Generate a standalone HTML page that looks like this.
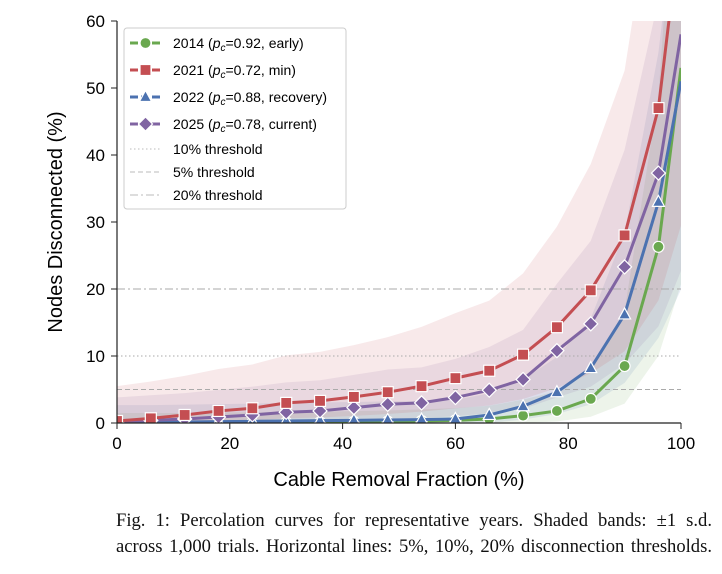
<!DOCTYPE html>
<html><head><meta charset="utf-8"><style>
body{margin:0;background:#fff;width:722px;height:574px;overflow:hidden;font-family:"Liberation Sans",sans-serif}
.cap{position:absolute;left:116px;width:596px;text-align:justify;text-align-last:justify;font-family:"Liberation Serif",serif;font-size:18.6px;color:#111;white-space:nowrap}
</style></head><body>
<svg id="s" width="722" height="500" style="position:absolute;left:0;top:0"></svg>
<div class="cap" style="top:510px">Fig. 1: Percolation curves for representative years. Shaded bands: ±1 s.d.</div>
<div class="cap" style="top:536px">across 1,000 trials. Horizontal lines: 5%, 10%, 20% disconnection thresholds.</div>
<script>
const X=x=>117+5.64*x, Y=y=>423-6.7*y;
const xs=[0,6,12,18,24,30,36,42,48,54,60,66,72,78,84,90,96,100];
const D={
r:[0.3,0.7,1.2,1.8,2.2,3,3.3,3.9,4.6,5.5,6.7,7.8,10.2,14.3,19.8,28,47,75],
p:[0.2,0.4,0.6,0.9,1.2,1.6,1.8,2.3,2.8,3,3.8,4.9,6.5,10.8,14.8,23.3,37.3,58],
b:[0.1,0.1,0.15,0.2,0.25,0.3,0.35,0.4,0.45,0.5,0.6,1.2,2.5,4.6,8.2,16.2,33,51],
g:[0,0,0,0.05,0.05,0.1,0.1,0.15,0.2,0.3,0.4,0.6,1.1,1.8,3.6,8.5,26.3,53]};
const C={r:'#c44e52',p:'#8064a2',b:'#4c72b0',g:'#6aa84f'};
const up={r:v=>v*1.7+5,p:v=>v*1.6+3.5,b:v=>v*1.6+2.5,g:v=>v*1.8+1.5};
let h='<defs><clipPath id="c"><rect x="117" y="21" width="564" height="402"/></clipPath></defs><g clip-path="url(#c)">';
for(const k of ['g','b','p','r']){
 let top=xs.map((x,i)=>X(x)+','+Y(up[k](D[k][i]))).join(' ');
 let bot=xs.slice().reverse().map((x,j)=>{let i=xs.length-1-j;return X(x)+','+Y(Math.max(0,D[k][i]*0.4-0.5))}).join(' ');
 h+=`<polygon points="${top} ${bot}" fill="${C[k]}" fill-opacity="0.12"/>`;
}
h+=`<line x1="117" x2="681" y1="${Y(5)}" y2="${Y(5)}" stroke="#aaa" stroke-dasharray="5,3"/>`;
h+=`<line x1="117" x2="681" y1="${Y(10)}" y2="${Y(10)}" stroke="#aaa" stroke-dasharray="1.5,2.5"/>`;
h+=`<line x1="117" x2="681" y1="${Y(20)}" y2="${Y(20)}" stroke="#aaa" stroke-dasharray="8,3,2,3"/>`;
function mk(k,x,y){const c=C[k];
 if(k=='g')return `<circle cx="${x}" cy="${y}" r="5.5" fill="${c}" stroke="#fff" stroke-width="1.2"/>`;
 if(k=='r')return `<rect x="${x-5.5}" y="${y-5.5}" width="11" height="11" fill="${c}" stroke="#fff" stroke-width="1.2"/>`;
 if(k=='b')return `<polygon points="${x},${y-6.5} ${x+6},${y+4.5} ${x-6},${y+4.5}" fill="${c}" stroke="#fff" stroke-width="1.2"/>`;
 return `<polygon points="${x},${y-7} ${x+7},${y} ${x},${y+7} ${x-7},${y}" fill="${c}" stroke="#fff" stroke-width="1.2"/>`;}
for(const k of ['g','b','p','r']){
 h+=`<polyline points="${xs.map((x,i)=>X(x)+','+Y(D[k][i])).join(' ')}" fill="none" stroke="${C[k]}" stroke-width="3" stroke-linejoin="round"/>`;
 xs.forEach((x,i)=>{if(x<100)h+=mk(k,X(x),Y(D[k][i]))});
}
h+='</g>';
h+='<line x1="117" y1="21" x2="117" y2="423" stroke="#222" stroke-width="1.2"/><line x1="117" y1="423" x2="681" y2="423" stroke="#222" stroke-width="1.2"/>';
for(let v=0;v<=100;v+=20){h+=`<line x1="${X(v)}" x2="${X(v)}" y1="423" y2="429" stroke="#222"/><text x="${X(v)}" y="449" font-size="17" text-anchor="middle">${v}</text>`}
for(let v=0;v<=60;v+=10){h+=`<line x1="111" x2="117" y1="${Y(v)}" y2="${Y(v)}" stroke="#222"/><text x="105" y="${Y(v)+6}" font-size="17" text-anchor="end">${v}</text>`}
h+='<text x="399" y="486" font-size="20" text-anchor="middle">Cable Removal Fraction (%)</text>';
h+='<text transform="translate(62,222) rotate(-90)" font-size="20" text-anchor="middle">Nodes Disconnected (%)</text>';
h+='<rect x="124" y="28" width="222" height="181" rx="3" fill="#fff" fill-opacity="0.9" stroke="#ccc"/>';
const L=[['g','2014','0.92, early'],['r','2021','0.72, min'],['b','2022','0.88, recovery'],['p','2025','0.78, current']];
L.forEach((l,i)=>{const y=43+i*27;h+=`<line x1="130" x2="161" y1="${y}" y2="${y}" stroke="${C[l[0]]}" stroke-width="3" stroke-dasharray="8,3"/>`+mk(l[0],145.5,y)+`<text x="173" y="${y+5}" font-size="14">${l[1]} (<tspan font-style="italic">p</tspan><tspan font-style="italic" font-size="10" dy="3">c</tspan><tspan dy="-3">=${l[2]})</tspan></text>`});
[['10% threshold','1.5,2.5'],['5% threshold','5,3'],['20% threshold','8,3,2,3']].forEach((l,i)=>{const y=149+i*23;h+=`<line x1="130" x2="161" y1="${y}" y2="${y}" stroke="#bbb" stroke-dasharray="${l[1]}"/><text x="173" y="${y+5}" font-size="14">${l[0]}</text>`});
document.getElementById('s').innerHTML=h;
</script>
</body></html>
